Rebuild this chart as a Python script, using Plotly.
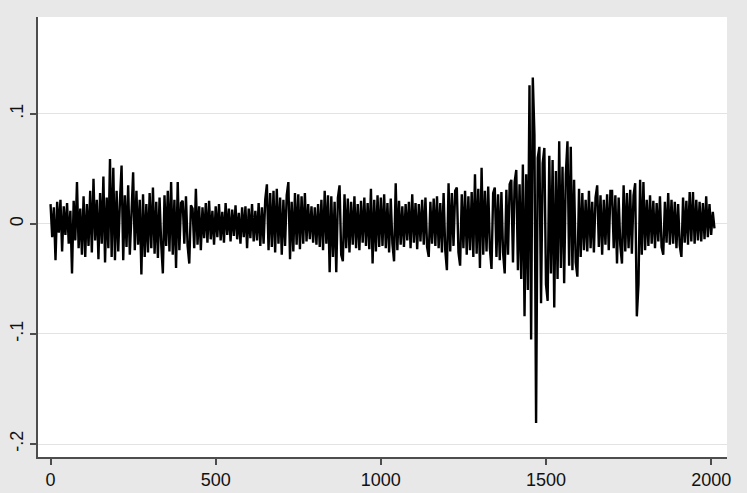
import plotly.graph_objects as go

values = [
    0.018, -0.012, 0.015, -0.033, 0.020, -0.008, 0.022, -0.025, 0.016, -0.010, 0.019, -0.018, 0.012, -0.045, 0.021, -0.015, 0.038, -0.022, 0.014, -0.028,
    0.025, -0.030, 0.018, -0.020, 0.030, -0.026, 0.041, -0.015, 0.022, -0.032, 0.028, -0.018, 0.043, -0.035, 0.024, -0.022, 0.059, -0.030, 0.051, -0.033,
    0.030, -0.025, 0.020, 0.053, -0.033, 0.026, -0.021, 0.035, -0.028, 0.015, 0.047, -0.024, 0.030, -0.019, 0.022, -0.046, 0.027, -0.030, 0.018, -0.026,
    0.028, -0.022, 0.033, -0.027, 0.020, -0.031, 0.024, -0.018, -0.045, 0.026, -0.020, 0.030, -0.025, 0.038, -0.028, 0.022, -0.040, 0.038, -0.024, 0.019,
    0.021, -0.018, 0.025, -0.020, -0.036, 0.017, 0.014, -0.022, 0.032, -0.019, 0.016, -0.024, 0.015, -0.013, 0.019, -0.017, 0.021, -0.014, 0.012, -0.019,
    0.016, -0.012, 0.018, -0.015, 0.011, -0.017, 0.019, -0.010, 0.014, -0.016, 0.013, -0.011, 0.017, -0.014, 0.010, -0.018, 0.015, -0.012, 0.016, -0.022,
    0.014, -0.013, 0.018, -0.016, 0.012, -0.015, 0.019, -0.020, 0.015, -0.018, 0.022, 0.036, -0.024, 0.028, -0.021, 0.030, -0.026, 0.032, -0.018, 0.024,
    -0.028, 0.022, -0.020, 0.026, 0.038, -0.032, 0.020, -0.025, 0.028, -0.019, 0.027, -0.023, 0.025, -0.018, 0.028, -0.016, 0.018, -0.014, 0.016, -0.017,
    0.015, -0.019, 0.018, -0.021, 0.022, -0.024, 0.030, -0.018, 0.026, -0.044, 0.025, -0.030, 0.020, -0.044, 0.024, 0.035, -0.028, -0.034, 0.027, -0.022,
    0.023, -0.026, 0.020, -0.019, 0.025, -0.022, 0.018, -0.024, 0.021, -0.017, 0.024, -0.020, 0.019, -0.023, 0.032, -0.036, 0.022, -0.025, 0.026, -0.021,
    0.024, -0.020, 0.027, -0.022, 0.019, -0.026, 0.023, -0.018, -0.034, 0.037, -0.024, 0.021, -0.019, 0.016, -0.021, 0.018, -0.015, 0.020, -0.022, 0.027,
    -0.017, 0.019, -0.023, 0.018, -0.016, 0.022, -0.019, 0.024, -0.021, -0.030, 0.020, -0.018, 0.023, -0.020, 0.025, -0.022, 0.019, -0.026, 0.028, -0.024,
    -0.042, 0.037, -0.025, 0.028, -0.020, 0.030, 0.033, -0.026, -0.038, 0.027, -0.022, 0.030, -0.028, 0.025, -0.024, 0.029, -0.030, 0.045, -0.027, 0.032,
    -0.040, 0.051, -0.028, 0.030, -0.025, 0.034, -0.022, -0.041, 0.028, 0.033, -0.030, 0.027, -0.033, 0.029, -0.026, -0.045, 0.031, -0.028, 0.036, 0.040,
    -0.035, 0.038, 0.049, -0.042, 0.036, -0.050, 0.054, -0.084, 0.045, -0.060, 0.126, -0.105, 0.133, 0.081, -0.181, 0.060, 0.070, -0.072, 0.055, 0.069,
    -0.055, -0.070, 0.062, -0.045, 0.058, -0.076, 0.048, -0.050, 0.075, -0.040, 0.052, -0.054, 0.045, 0.075, -0.038, 0.070, -0.042, 0.040, -0.035, -0.048,
    0.032, -0.030, 0.028, -0.024, 0.022, -0.025, 0.030, -0.022, 0.020, -0.026, 0.024, 0.035, -0.021, 0.026, -0.028, 0.022, -0.019, 0.027, -0.024, 0.030,
    0.030, -0.022, 0.026, -0.036, 0.024, -0.020, -0.036, 0.035, -0.025, 0.028, -0.022, 0.031, -0.027, 0.026, 0.037, -0.084, -0.055, 0.040, -0.028, 0.038,
    -0.024, 0.022, -0.020, 0.026, -0.018, 0.021, -0.022, 0.019, -0.016, 0.025, -0.021, -0.028, 0.020, -0.017, 0.028, -0.019, 0.022, -0.018, 0.020, -0.022,
    0.018, -0.020, -0.030, 0.024, -0.017, 0.021, -0.019, 0.029, -0.016, 0.029, -0.018, 0.022, -0.015, 0.020, -0.016, 0.019, -0.014, 0.025, -0.012, 0.018,
    -0.010, 0.011, -0.004,
]
obs = list(range(0, 5 * len(values), 5))

ytick_vals = [-0.2, -0.1, 0, 0.1]
ytick_text = ["-.2", "-.1", "0", ".1"]
xtick_vals = [0, 500, 1000, 1500, 2000]

fig = go.Figure()
fig.add_trace(go.Scatter(x=obs, y=values, mode="lines",
                         line=dict(color="#000000", width=2.4),
                         showlegend=False, hoverinfo="skip"))

axis_font = dict(family="Liberation Sans, Arial, sans-serif", size=18, color="#111111")

fig.update_layout(
    width=747, height=493,
    margin=dict(l=38, r=20, t=17, b=36, autoexpand=False),
    paper_bgcolor="#e8e8e8",
    plot_bgcolor="#ffffff",
    xaxis=dict(range=[-38, 2048], tickvals=xtick_vals, showgrid=False,
               zeroline=False, showline=True, linecolor="#4d4d4d", linewidth=1.5,
               ticks="outside", ticklen=6, tickwidth=1.5, tickcolor="#4d4d4d",
               tickfont=axis_font, automargin=False),
    yaxis=dict(range=[-0.2118, 0.188], tickvals=ytick_vals, ticktext=ytick_text,
               tickangle=-90, showgrid=True, gridcolor="#e3e3e3", gridwidth=1,
               zeroline=False, showline=True, linecolor="#4d4d4d", linewidth=1.5,
               ticks="outside", ticklen=6, tickwidth=1.5, tickcolor="#4d4d4d",
               tickfont=axis_font, automargin=False),
)

# page has a default 8px body margin; drop it so the figure fills the window
fig.write_html("out.html", config={"displayModeBar": False},
               post_script="document.body.style.margin='0';"
                           "document.body.style.background='#e8e8e8';")
